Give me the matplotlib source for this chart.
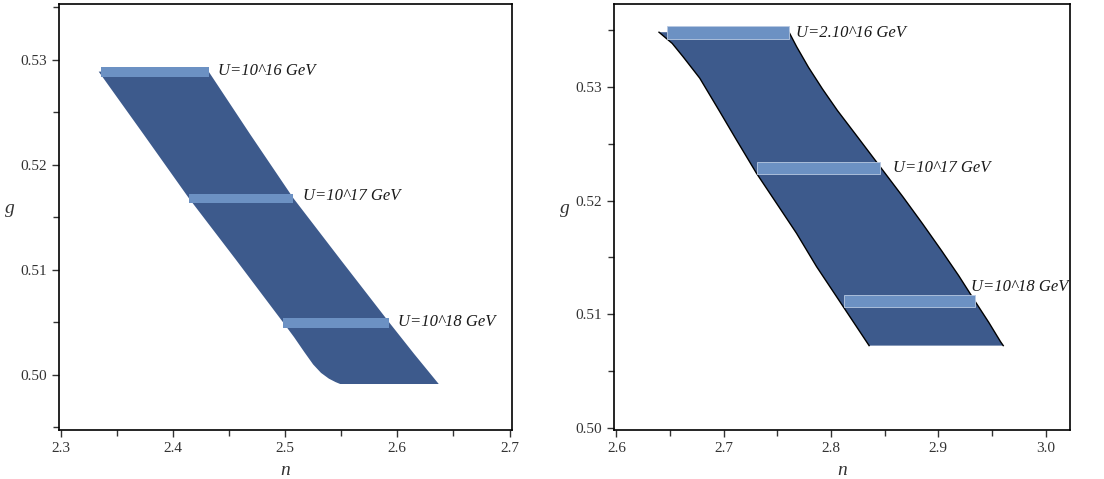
import matplotlib
matplotlib.use('Agg')
import matplotlib.pyplot as plt
from matplotlib.ticker import MultipleLocator, FormatStrFormatter

plt.rcParams['font.family'] = ['Liberation Serif', 'DejaVu Serif']

# left panel: allowed region in (n, g)
left_edge_n = [2.3339, 2.3740, 2.4143, 2.4560, 2.4985, 2.5080, 2.5170, 2.5250, 2.5320, 2.5390, 2.5450, 2.5491]
left_edge_g = [0.52889, 0.52290, 0.51683, 0.51100, 0.50497, 0.50360, 0.50220, 0.50100, 0.50020, 0.49965, 0.49932, 0.49914]
right_edge_n = [2.4319, 2.4690, 2.5074, 2.5500, 2.5930, 2.6150, 2.6369]
right_edge_g = [0.52889, 0.52290, 0.51683, 0.51090, 0.50497, 0.50200, 0.49914]

# left panel bars (n start, n end, g)
bars1_n0 = [2.3357, 2.4143, 2.4985]
bars1_n1 = [2.4319, 2.5074, 2.5930]
bars1_g = [0.52885, 0.51683, 0.50497]
labels1 = ['U=10^16 GeV', 'U=10^17 GeV', 'U=10^18 GeV']
labels1_n = [2.440, 2.5157, 2.601]
labels1_g = [0.5289, 0.5170, 0.5050]

# right panel region
left_edge2_n = [2.6397, 2.6520, 2.6621, 2.6777, 2.6963, 2.7119, 2.7305, 2.7492, 2.7678, 2.7865, 2.8113, 2.8355]
left_edge2_g = [0.53478, 0.53380, 0.53263, 0.53074, 0.52781, 0.52532, 0.52240, 0.51976, 0.51713, 0.51420, 0.51069, 0.50726]
right_edge2_n = [2.7609, 2.7680, 2.7790, 2.7920, 2.8060, 2.8230, 2.8455, 2.8672, 2.8850, 2.9030, 2.9190, 2.9341, 2.9470, 2.9580, 2.9605]
right_edge2_g = [0.53478, 0.53350, 0.53170, 0.52980, 0.52790, 0.52580, 0.52300, 0.52030, 0.51800, 0.51560, 0.51340, 0.51117, 0.50930, 0.50760, 0.50726]

bars2_n0 = [2.6472, 2.7311, 2.8122]
bars2_n1 = [2.7607, 2.8455, 2.9341]
bars2_g = [0.53474, 0.52284, 0.51117]
labels2 = ['U=2.10^16 GeV', 'U=10^17 GeV', 'U=10^18 GeV']
labels2_n = [2.7678, 2.8579, 2.930]
labels2_g = [0.5347, 0.5229, 0.5124]

dark = '#3d5a8c'
light = '#6c91c3'

fig = plt.figure(figsize=(11.04, 4.79), dpi=100)
ax1 = fig.add_axes([0.0534, 0.1023, 0.4103, 0.8894])
ax2 = fig.add_axes([0.5562, 0.1023, 0.4130, 0.8894])


def region(ax, ln, lg, rn, rg, outline):
    xs = ln + rn[::-1]
    ys = lg + rg[::-1]
    ax.fill(xs, ys, color=dark, lw=0, zorder=1)
    if outline:
        ax.plot(ln, lg, color='black', lw=1.0, zorder=2, solid_joinstyle='round')
        ax.plot(rn, rg, color='black', lw=1.0, zorder=2, solid_joinstyle='round')


region(ax1, left_edge_n, left_edge_g, right_edge_n, right_edge_g, False)
ax1.barh(bars1_g, [b - a for a, b in zip(bars1_n0, bars1_n1)], left=bars1_n0,
         height=0.00090, color=light, lw=0, zorder=3)
for t, x, y in zip(labels1, labels1_n, labels1_g):
    ax1.text(x, y, t, fontsize=12, style='italic', va='center', ha='left', color='#1a1a1a')

region(ax2, left_edge2_n, left_edge2_g, right_edge2_n, right_edge2_g, True)
ax2.barh(bars2_g, [b - a for a, b in zip(bars2_n0, bars2_n1)], left=bars2_n0,
         height=0.00110, color=light, edgecolor='#b8c9e2', lw=0.6, zorder=3)
for t, x, y in zip(labels2, labels2_n, labels2_g):
    ax2.text(x, y, t, fontsize=12, style='italic', va='center', ha='left', color='#1a1a1a')

ax1.set_xlim(2.2985, 2.7021)
ax1.set_ylim(0.49476, 0.53533)
ax2.set_xlim(2.5978, 3.0227)
ax2.set_ylim(0.49985, 0.53726)

for ax in (ax1, ax2):
    ax.xaxis.set_major_locator(MultipleLocator(0.1))
    ax.xaxis.set_minor_locator(MultipleLocator(0.05))
    ax.yaxis.set_major_locator(MultipleLocator(0.01))
    ax.yaxis.set_minor_locator(MultipleLocator(0.005))
    ax.xaxis.set_major_formatter(FormatStrFormatter('%.1f'))
    ax.yaxis.set_major_formatter(FormatStrFormatter('%.2f'))
    ax.tick_params(which='both', direction='out', width=1, labelsize=11, colors='#333333')
    ax.tick_params(which='major', length=5)
    ax.tick_params(which='minor', length=4)
    ax.tick_params(axis='x', pad=4)
    for s in ax.spines.values():
        s.set_linewidth(1.2)
    ax.set_xlabel('n', fontsize=14, style='italic', labelpad=5, color='#333333')
    ax.set_ylabel('g', fontsize=14, style='italic', rotation=0, labelpad=8, color='#333333')

fig.savefig('out.png', dpi=100)
